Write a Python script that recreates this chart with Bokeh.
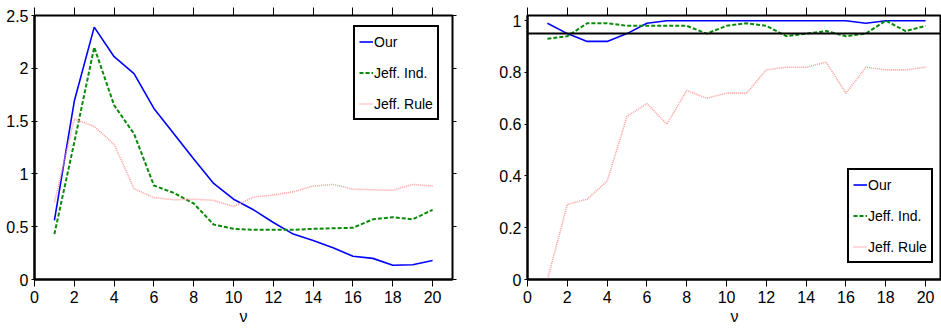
from bokeh.plotting import figure
from bokeh.layouts import row
from bokeh.models import LinearAxis, FixedTicker, Span, Legend, LegendItem, Range1d
from bokeh.embed import file_html
from bokeh.resources import INLINE

# ---------------- data ----------------
nu = list(range(1, 21))

# left panel
left_our = [0.56, 1.69, 2.39, 2.11, 1.95, 1.62, 1.38, 1.14, 0.91, 0.76,
            0.66, 0.54, 0.43, 0.37, 0.30, 0.22, 0.20, 0.135, 0.14, 0.18]
left_ind = [0.43, 1.30, 2.20, 1.65, 1.38, 0.89, 0.82, 0.72, 0.52, 0.48,
            0.47, 0.47, 0.47, 0.48, 0.485, 0.49, 0.57, 0.59, 0.57, 0.66]
left_rule = [0.73, 1.52, 1.45, 1.28, 0.86, 0.775, 0.755, 0.76, 0.75, 0.69,
             0.78, 0.80, 0.83, 0.885, 0.90, 0.855, 0.85, 0.845, 0.90, 0.885]

# right panel
right_our = [0.99, 0.95, 0.92, 0.92, 0.95, 0.99, 1.0, 1.0, 1.0, 1.0,
             1.0, 1.0, 1.0, 1.0, 1.0, 1.0, 0.99, 1.0, 1.0, 1.0]
right_ind = [0.93, 0.94, 0.99, 0.99, 0.98, 0.98, 0.98, 0.98, 0.95, 0.98,
             0.99, 0.98, 0.94, 0.95, 0.96, 0.94, 0.95, 1.0, 0.96, 0.98]
right_rule = [0.0, 0.29, 0.31, 0.38, 0.63, 0.68, 0.60, 0.73, 0.70, 0.72,
              0.72, 0.81, 0.82, 0.82, 0.84, 0.72, 0.82, 0.81, 0.81, 0.82]
right_ref = 0.95

series_names = ["Our", "Jeff. Ind.", "Jeff. Rule"]
x_ticks = [0, 2, 4, 6, 8, 10, 12, 14, 16, 18, 20]
left_y_ticks = [0, 0.5, 1, 1.5, 2, 2.5]
left_y_labels = ["0", "0.5", "1", "1.5", "2", "2.5"]
right_y_ticks = [0, 0.2, 0.4, 0.6, 0.8, 1]
right_y_labels = ["0", "0.2", "0.4", "0.6", "0.8", "1"]
x_label = "ν"

FONT = "Liberation Sans"
TICK_FS = "16px"

styles = [
    dict(line_color="#0000ff", line_width=1.6),
    dict(line_color="#0a8a0a", line_width=2, line_dash="4 2"),
    dict(line_color="#ff9c9c", line_width=1.6, line_dash="1 1"),
]


def tick_only_axis(ticks, tick_out):
    return LinearAxis(ticker=FixedTicker(ticks=ticks), major_tick_out=tick_out, major_tick_in=0,
                      minor_tick_out=0, minor_tick_in=0, axis_line_color=None,
                      major_tick_line_color="black",
                      major_label_text_color=None, major_label_text_font_size="0px",
                      major_label_standoff=0)


def make_panel(width, border_left, border_right, ys, y_end, y_ticks, y_labels,
               legend_loc, x_end, right_axis):
    p = figure(width=width, height=330, output_backend="svg", toolbar_location=None,
               x_range=Range1d(0, x_end), y_range=Range1d(0, y_end),
               min_border_left=border_left, min_border_right=border_right,
               min_border_top=15, min_border_bottom=51)
    p.grid.visible = False
    p.outline_line_color = "black"
    p.outline_line_width = 2
    p.outline_line_alpha = 1
    p.background_fill_color = "white"
    p.border_fill_color = "white"

    renderers = []
    for yv, st in zip(ys, styles):
        r = p.line(nu, yv, **st)
        renderers.append(r)

    # bottom axis
    xa = p.xaxis[0]
    xa.ticker = FixedTicker(ticks=x_ticks)
    xa.major_tick_out = 7
    xa.major_tick_in = 0
    xa.minor_tick_out = 0
    xa.minor_tick_in = 0
    xa.axis_line_width = 2
    xa.major_tick_line_color = "black"
    xa.major_label_text_font = FONT
    xa.major_label_text_font_size = TICK_FS
    xa.major_label_text_color = "black"
    xa.major_label_standoff = 4
    xa.axis_label = x_label
    xa.axis_label_text_font = FONT
    xa.axis_label_text_font_style = "normal"
    xa.axis_label_text_font_size = "16px"
    xa.axis_label_text_color = "black"
    xa.axis_label_standoff = 2

    # left axis
    ya = p.yaxis[0]
    ya.ticker = FixedTicker(ticks=y_ticks)
    ya.major_label_overrides = {t: l for t, l in zip(y_ticks, y_labels)}
    ya.major_tick_out = 3
    ya.major_tick_in = 3 if right_axis else 0
    ya.minor_tick_out = 0
    ya.minor_tick_in = 0
    ya.axis_line_width = 2
    ya.major_tick_line_color = "black"
    ya.major_label_text_font = FONT
    ya.major_label_text_font_size = TICK_FS
    ya.major_label_text_color = "black"
    ya.major_label_standoff = 3

    # top axis (ticks only)
    p.add_layout(tick_only_axis(x_ticks, 8), "above")
    if right_axis:
        p.add_layout(tick_only_axis(y_ticks, 4), "right")

    legend = Legend(items=[LegendItem(label=n, renderers=[r]) for n, r in zip(series_names, renderers)],
                    location=legend_loc,
                    label_text_font=FONT, label_text_font_size="14px",
                    label_text_color="black",
                    label_height=21, glyph_height=21, glyph_width=14,
                    spacing=10, padding=4, margin=0, label_standoff=1,
                    border_line_color="black", border_line_width=2, border_line_alpha=1,
                    background_fill_color="white", background_fill_alpha=1)
    p.add_layout(legend, "center")
    return p


p1 = make_panel(470, 34, 18, [left_our, left_ind, left_rule], 2.5,
                left_y_ticks, left_y_labels, (319, 159), 21.0, True)
p2 = make_panel(471, 57, 0, [right_our, right_ind, right_rule], 1.02,
                right_y_ticks, right_y_labels, (320, 16), 20.8, False)
p2.add_layout(Span(location=right_ref, dimension="width", line_color="black", line_width=2))

layout = row(p1, p2)
open("out.html", "w").write(file_html(layout, INLINE))
